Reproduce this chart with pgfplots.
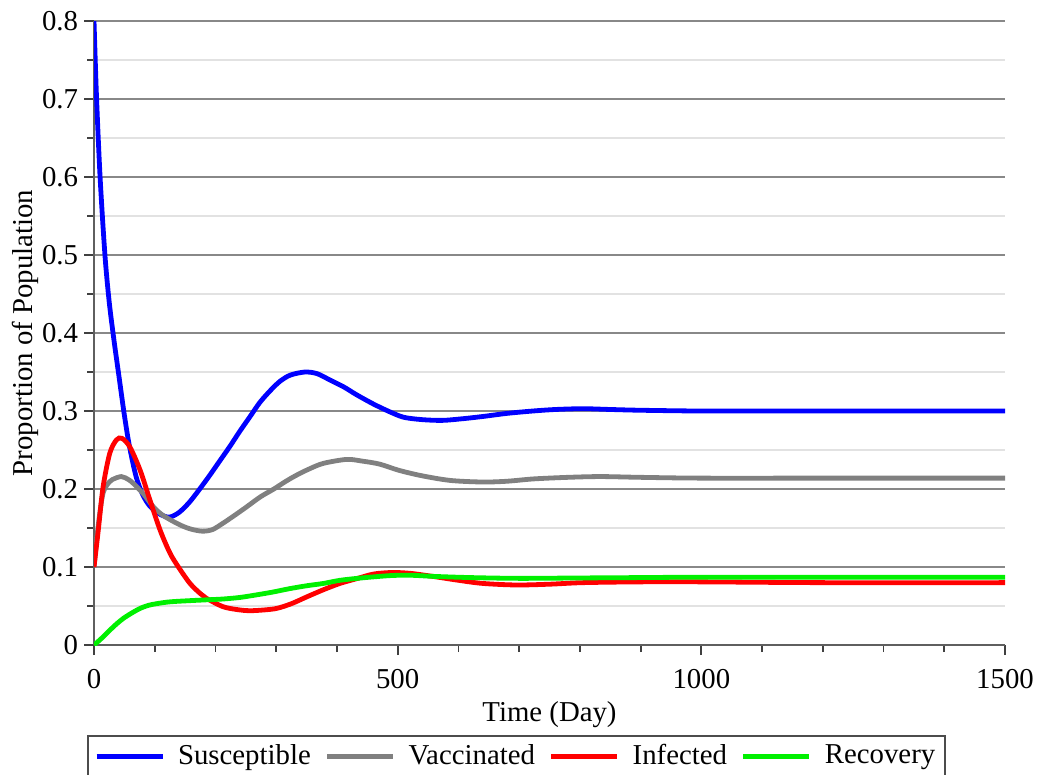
\documentclass[border=0pt]{standalone}
\usepackage{fontspec}
\setmainfont{Liberation Serif}
\usepackage{pgfplots}
\pgfplotsset{compat=1.18}
\definecolor{majgrid}{RGB}{136,136,136}
\definecolor{mingrid}{RGB}{226,226,226}
\definecolor{axcol}{RGB}{95,95,95}
\definecolor{sblue}{RGB}{0,0,255}
\definecolor{vgray}{RGB}{128,128,128}
\definecolor{ired}{RGB}{255,0,0}
\definecolor{rgreen}{RGB}{0,240,0}

\pgfplotstableread{
x y
0 0.800
4 0.705
10 0.600
18 0.500
25 0.440
33 0.390
41 0.345
49 0.300
56 0.265
63 0.237
70 0.214
80 0.193
92 0.178
108 0.168
124 0.164
140 0.170
157 0.183
173 0.199
190 0.217
207 0.236
224 0.255
240 0.274
257 0.293
273 0.311
290 0.326
306 0.338
323 0.346
347 0.350
367 0.348
388 0.340
411 0.331
432 0.321
460 0.309
487 0.299
510 0.292
540 0.289
573 0.288
605 0.290
640 0.293
680 0.297
722 0.300
760 0.302
805 0.303
850 0.302
900 0.301
1000 0.300
1100 0.300
1200 0.300
1300 0.300
1400 0.300
1500 0.300
}\suscept

\pgfplotstableread{
x y
0 0.100
5 0.140
10 0.172
15 0.195
22 0.206
30 0.212
45 0.216
57 0.212
65 0.207
81 0.194
98 0.177
114 0.166
139 0.155
158 0.149
178 0.146
195 0.148
212 0.156
231 0.166
251 0.177
274 0.190
296 0.200
316 0.210
334 0.218
355 0.226
378 0.233
416 0.238
440 0.236
470 0.232
502 0.224
540 0.217
587 0.211
640 0.209
680 0.210
724 0.213
780 0.215
834 0.216
900 0.215
1000 0.214
1200 0.214
1500 0.214
}\vacc

\pgfplotstableread{
x y
0 0.100
7 0.147
15 0.203
26 0.246
37 0.263
46 0.265
59 0.254
76 0.224
92 0.186
109 0.147
125 0.118
139 0.100
158 0.079
175 0.066
185 0.060
213 0.049
240 0.045
257 0.044
280 0.045
301 0.047
325 0.053
351 0.062
378 0.071
405 0.079
432 0.085
460 0.091
490 0.093
520 0.092
558 0.088
600 0.083
640 0.079
695 0.077
750 0.078
805 0.080
900 0.081
1000 0.081
1200 0.080
1500 0.080
}\infect

\pgfplotstableread{
x y
0 0.000
13 0.009
26 0.019
37 0.027
48 0.034
62 0.041
76 0.047
90 0.051
103 0.053
120 0.055
136 0.056
160 0.057
186 0.058
212 0.059
240 0.061
265 0.064
295 0.068
320 0.072
350 0.076
378 0.079
405 0.083
440 0.086
487 0.089
520 0.0895
560 0.088
620 0.0865
700 0.0855
800 0.086
900 0.0865
1000 0.087
1200 0.087
1500 0.087
}\recov

\begin{document}
\fontsize{14.4}{17}\selectfont
\begin{tikzpicture}
\begin{axis}[
  scale only axis, width=455.5pt, height=312pt,
  xmin=0, xmax=1500, ymin=0, ymax=0.8,
  axis x line*=bottom, axis y line*=left,
  axis line style={-, draw=axcol, line width=1.2pt},
  xtick={0,500,1000,1500},
  ytick={0,0.1,0.2,0.3,0.4,0.5,0.6,0.7,0.8},
  minor x tick num=4, minor y tick num=1,
  tick align=outside,
  major tick length=5pt, minor tick length=3.5pt,
  every tick/.style={draw=black!75, line width=0.9pt},
  ymajorgrids, yminorgrids,
  major grid style={draw=majgrid, line width=0.8pt},
  minor grid style={draw=mingrid, line width=0.8pt},
  /pgf/number format/assume math mode=true,
  /pgf/number format/1000 sep={},
  tick label style={font=\fontsize{14.4}{17}\selectfont},
  xticklabel style={yshift=-2pt},
  yticklabel style={xshift=2pt},
  xlabel={Time (Day)}, ylabel={Proportion of Population},
  every axis x label/.style={at={(axis description cs:0.5,-0.09)}, anchor=north, inner sep=0pt},
  every axis y label/.style={at={(axis description cs:-0.090,0.5)}, rotate=90, anchor=north, inner sep=0pt},
  label style={font=\fontsize{14.4}{17}\selectfont},
  legend columns=4,
  legend style={at={(axis description cs:0.464,-0.144)}, anchor=north, draw=black!70, line width=1pt,
    font=\fontsize{14.4}{17}\selectfont, inner xsep=3pt, inner ysep=2pt,
    /tikz/every odd column/.append style={column sep=4.5pt},
    /tikz/every even column/.append style={column sep=5pt}},
  legend image code/.code={\draw[#1, line width=2.4pt] (0pt,0pt) -- (33pt,0pt);},
  every axis plot/.append style={line width=2.4pt, smooth, tension=0.5},
]
\addplot[sblue] table {\suscept};
\addlegendentry{Susceptible}
\addplot[vgray] table {\vacc};
\addlegendentry{Vaccinated}
\addplot[ired] table {\infect};
\addlegendentry{Infected}
\addplot[rgreen] table {\recov};
\addlegendentry{Recovery}
\coordinate (bbTL) at (rel axis cs:-0.1032,1.0337);
\coordinate (bbBR) at (rel axis cs:1.0362,-0.2067);
\end{axis}
\pgfresetboundingbox
\path[use as bounding box] (bbTL) rectangle (bbBR);
\end{tikzpicture}
\end{document}
